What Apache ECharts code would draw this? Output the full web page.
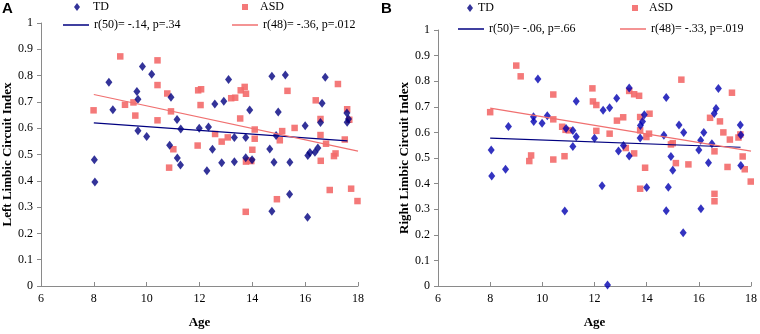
<!DOCTYPE html>
<html>
<head>
<meta charset="utf-8">
<script src="https://cdn.jsdelivr.net/npm/echarts@6/dist/echarts.min.js"></script>
<style>
  html, body { margin: 0; padding: 0; background: #fff; }
  #chart { width: 760px; height: 334px; }
</style>
</head>
<body>
<div id="chart"></div>
<script>
// Panel A: left limbic circuit index vs age
const tdLeft = [
    [8.02, 0.48], [8.04, 0.395], [8.57, 0.775], [8.72, 0.67], [9.63, 0.74], [9.67, 0.71],
    [9.67, 0.59], [9.84, 0.835], [10.0, 0.568], [10.19, 0.805], [10.87, 0.535], [10.92, 0.718],
    [11.15, 0.633], [11.16, 0.487], [11.28, 0.46], [11.29, 0.597], [11.99, 0.6], [12.28, 0.438],
    [12.34, 0.605], [12.49, 0.52], [12.58, 0.692], [12.84, 0.469], [12.92, 0.702], [13.1, 0.785],
    [13.32, 0.565], [13.32, 0.472], [13.75, 0.565], [13.75, 0.488], [13.9, 0.669], [13.99, 0.48],
    [14.66, 0.521], [14.74, 0.798], [14.74, 0.284], [14.82, 0.471], [14.9, 0.572], [14.98, 0.662],
    [15.25, 0.802], [15.41, 0.349], [15.42, 0.471], [16.0, 0.609], [16.09, 0.261], [16.1, 0.496],
    [16.18, 0.508], [16.37, 0.509], [16.48, 0.525], [16.58, 0.622], [16.64, 0.695], [16.76, 0.794],
    [17.58, 0.658], [17.59, 0.623], [17.64, 0.635]
];
const asdLeft = [
    [7.99, 0.668], [9.0, 0.873], [9.18, 0.689], [9.5, 0.698], [9.57, 0.648], [10.41, 0.858],
    [10.41, 0.764], [10.41, 0.63], [10.78, 0.732], [10.85, 0.45], [10.92, 0.664], [11.01, 0.52],
    [11.93, 0.534], [11.95, 0.744], [12.04, 0.688], [12.06, 0.748], [12.59, 0.578], [12.84, 0.549],
    [13.07, 0.565], [13.2, 0.714], [13.35, 0.716], [13.54, 0.637], [13.56, 0.744], [13.71, 0.757],
    [13.76, 0.731], [13.75, 0.282], [13.76, 0.473], [13.86, 0.477], [13.96, 0.475], [14.0, 0.518],
    [14.09, 0.595], [14.09, 0.56], [14.93, 0.33], [15.04, 0.554], [15.13, 0.589], [15.33, 0.742],
    [15.6, 0.601], [16.4, 0.706], [16.58, 0.635], [16.58, 0.574], [16.59, 0.476], [16.79, 0.541],
    [16.93, 0.365], [17.09, 0.494], [17.15, 0.504], [17.24, 0.768], [17.5, 0.557], [17.59, 0.672],
    [17.67, 0.632], [17.74, 0.37], [17.98, 0.323]
];
const tdFitLeft = [[8.0, 0.62], [17.6, 0.552]];
const asdFitLeft = [[8.0, 0.728], [18.0, 0.513]];

// Panel B: right limbic circuit index vs age
const tdRight = [
    [8.04, 0.531], [8.06, 0.43], [8.59, 0.456], [8.7, 0.623], [9.66, 0.661], [9.67, 0.643],
    [9.83, 0.809], [9.99, 0.636], [10.19, 0.665], [10.86, 0.293], [10.91, 0.615], [11.17, 0.607],
    [11.17, 0.545], [11.3, 0.722], [11.3, 0.583], [12.0, 0.577], [12.29, 0.392], [12.33, 0.687],
    [12.5, 0.004], [12.58, 0.696], [12.85, 0.733], [12.92, 0.527], [13.11, 0.549], [13.33, 0.773],
    [13.33, 0.508], [13.75, 0.578], [13.76, 0.627], [13.84, 0.643], [13.91, 0.669], [14.0, 0.385],
    [14.66, 0.589], [14.75, 0.736], [14.75, 0.294], [14.83, 0.386], [14.93, 0.506], [15.0, 0.452],
    [15.24, 0.629], [15.4, 0.208], [15.42, 0.6], [16.0, 0.531], [16.07, 0.569], [16.08, 0.302],
    [16.19, 0.6], [16.37, 0.481], [16.5, 0.556], [16.59, 0.674], [16.66, 0.693], [16.75, 0.771],
    [17.59, 0.629], [17.61, 0.59], [17.61, 0.471]
];
const asdRight = [
    [8.0, 0.679], [9.0, 0.861], [9.17, 0.819], [9.5, 0.488], [9.57, 0.51], [10.42, 0.748],
    [10.42, 0.651], [10.42, 0.494], [10.76, 0.622], [10.85, 0.507], [10.89, 0.61], [11.02, 0.608],
    [11.92, 0.772], [11.94, 0.721], [12.07, 0.707], [12.07, 0.606], [12.58, 0.595], [12.86, 0.646],
    [13.1, 0.659], [13.2, 0.539], [13.33, 0.762], [13.52, 0.749], [13.52, 0.518], [13.71, 0.743],
    [13.75, 0.66], [13.75, 0.608], [13.75, 0.38], [13.94, 0.462], [13.99, 0.582], [14.09, 0.595],
    [14.11, 0.673], [14.93, 0.553], [15.0, 0.558], [15.12, 0.48], [15.33, 0.806], [15.6, 0.475],
    [16.43, 0.657], [16.6, 0.526], [16.6, 0.36], [16.6, 0.331], [16.81, 0.643], [16.94, 0.6],
    [17.1, 0.465], [17.19, 0.572], [17.27, 0.755], [17.52, 0.58], [17.59, 0.592], [17.68, 0.506],
    [17.76, 0.456], [17.99, 0.408]
];
const tdFitRight = [[8.0, 0.578], [17.6, 0.542]];
const asdFitRight = [[8.0, 0.695], [18.0, 0.527]];

const statsLeft = ["r(50)= -.14, p=.34", "r(48)= -.36, p=.012"];
const statsRight = ["r(50)= -.06, p=.66", "r(48)= -.33, p=.019"];
const yTitles = ["Left Limbic Circuit Index", "Right Limbic Circuit Index"];

const serif = "Liberation Serif";
const tdColorA = "#000080";
const tdColorB = "#0000b0";
const asdColor = "#f36a6a";

function make_x(gridIndex) {
    return {
        type: "value", gridIndex, min: 6, max: 18, interval: 2,
        name: "Age", nameLocation: "middle", nameGap: 30,
        nameTextStyle: { fontFamily: serif, fontWeight: "bold", fontSize: 13, color: "#000" },
        axisLine: { lineStyle: { color: "#8a8a8a" } },
        axisTick: { inside: true, length: 4, lineStyle: { color: "#8a8a8a" } },
        axisLabel: { fontFamily: serif, fontSize: 12, color: "#000", margin: 7 },
        splitLine: { show: false },
    };
}

function make_y(gridIndex, title) {
    return {
        type: "value", gridIndex, min: 0, max: 1, interval: 0.1,
        name: title, nameLocation: "middle", nameGap: 21,
        nameTextStyle: { fontFamily: serif, fontWeight: "bold", fontSize: 13, color: "#000" },
        axisLine: { show: true, lineStyle: { color: "#8a8a8a" } },
        axisTick: { show: true, length: 4, lineStyle: { color: "#8a8a8a" } },
        axisLabel: { fontFamily: serif, fontSize: 12, color: "#000", margin: 8,
            formatter: (v) => String(Math.round(v * 10) / 10) },
        splitLine: { show: false },
    };
}

function legend_item(name, left, top, extra, textPad) {
    return Object.assign({
        data: [name], left, top, padding: 0, itemGap: 0,
        selectedMode: false,
        textStyle: { fontFamily: serif, fontSize: 12, color: "#000", padding: [0, 0, 0, textPad || 0] },
    }, extra);
}

const series = [];
function add_panel(idx, td, asd, tdFit, asdFit, stats, tdColor) {
    series.push({
        name: "TD", type: "scatter", xAxisIndex: idx, yAxisIndex: idx, data: td,
        symbol: "diamond", symbolSize: [7, 9], itemStyle: { color: tdColor }, z: 3,
    });
    series.push({
        name: "ASD", type: "scatter", xAxisIndex: idx, yAxisIndex: idx, data: asd,
        symbol: "rect", symbolSize: 6.5, itemStyle: { color: asdColor, opacity: 0.9 }, z: 2,
    });
    series.push({
        name: stats[0], type: "line", xAxisIndex: idx, yAxisIndex: idx, data: tdFit,
        symbol: "none", lineStyle: { color: "#000080", width: 1.2 }, itemStyle: { color: "#000080" }, z: 4,
    });
    series.push({
        name: stats[1], type: "line", xAxisIndex: idx, yAxisIndex: idx, data: asdFit,
        symbol: "none", lineStyle: { color: "#f07070", width: 1.2 }, itemStyle: { color: "#f07070" }, z: 4,
    });
}
add_panel(0, tdLeft, asdLeft, tdFitLeft, asdFitLeft, statsLeft, tdColorA);
add_panel(1, tdRight, asdRight, tdFitRight, asdFitRight, statsRight, tdColorB);

const squareLegend = { itemWidth: 6, itemHeight: 6, icon: "rect" };
const diamondLegend = { itemWidth: 6, itemHeight: 8, icon: "diamond" };
const lineLegend = { itemWidth: 26, itemHeight: 1.5, icon: "rect" };

const option = {
    animation: false,
    backgroundColor: "#fff",
    title: [
        { text: "A", left: 2, top: 1, padding: 0,
          textStyle: { fontFamily: "Liberation Sans", fontWeight: "bold", fontSize: 15, color: "#000" } },
        { text: "B", left: 381, top: 1, padding: 0,
          textStyle: { fontFamily: "Liberation Sans", fontWeight: "bold", fontSize: 15, color: "#000" } },
    ],
    grid: [
        { left: 41, top: 23, width: 317, height: 270 },
        { left: 438, top: 30, width: 315, height: 262 },
    ],
    xAxis: [make_x(0), make_x(1)],
    yAxis: [make_y(0, yTitles[0]), make_y(1, yTitles[1])],
    legend: [
        legend_item("TD", 74, 1, diamondLegend, 8),
        legend_item("ASD", 242, 1, squareLegend, 7),
        legend_item(statsLeft[0], 63, 19, lineLegend),
        legend_item(statsLeft[1], 232, 19, lineLegend),
        legend_item("TD", 467, 2, diamondLegend, 0),
        legend_item("ASD", 632, 2, squareLegend, 6),
        legend_item(statsRight[0], 458, 23, lineLegend),
        legend_item(statsRight[1], 620, 23, lineLegend),
    ],
    series,
};

const chart = echarts.init(document.getElementById("chart"));
chart.setOption(option);
</script>
</body>
</html>
